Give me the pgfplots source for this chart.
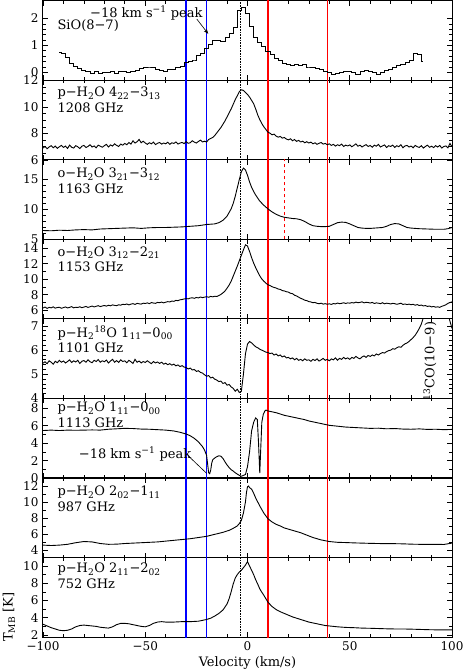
\documentclass[border=0pt]{standalone}
\usepackage{fontspec}
\setmainfont{DejaVu Serif}
\usepackage{pgfplots}
\pgfplotsset{compat=1.18}
\usetikzlibrary{arrows.meta}

\pgfplotsset{
  panel/.style={
    scale only axis, width=409pt, height=79.5pt, anchor=north west,
    xmin=-100, xmax=100, xtick={-100,-50,0,50,100}, minor x tick num=4,
    xticklabels={},
    tick align=inside, major tick length=5pt, minor tick length=3pt,
    every tick/.style={black, line width=0.7pt},
    axis line style={line width=1pt},
    tick label style={font=\fontsize{12}{14}\selectfont},
    /pgf/number format/assume math mode=true,
    clip=true, clip mode=individual,
  },
  spec/.style={black, line width=0.9pt, no marks},
  table/ytab/.style={x expr=\coordindex-100, y index=0, header=false, row sep=\\},
}
% reference velocities: blue -30,-20; red 10,39; dotted systemic -3.3
\newcommand{\vlines}{%
  \addplot[blue, line width=1.5pt] coordinates {(-30,-50) (-30,50)};
  \addplot[blue, line width=1.5pt] coordinates {(-20,-50) (-20,50)};
  \addplot[red, line width=1.5pt] coordinates {(10,-50) (10,50)};
  \addplot[red, line width=1.5pt] coordinates {(39,-50) (39,50)};
  \addplot[black, densely dotted, line width=0.6pt] coordinates {(-3.3,-50) (-3.3,50)};
}
\newcommand{\lab}[3]{%
  \node[anchor=west] at ([xshift=10pt,yshift=-#1]rel axis cs:0,1) {#2};
  \node[anchor=west] at ([xshift=10pt,yshift=-#1-14.5pt]rel axis cs:0,1) {#3};
}

\begin{document}
\fontsize{13}{15}\selectfont
\begin{tikzpicture}

% 1: SiO(8-7)
\begin{axis}[panel, at={(0pt,0pt)}, ymin=-0.3, ymax=2.65, ytick={0,1,2}, minor y tick num=4]
\vlines
\addplot[spec, const plot mark mid] coordinates {
 (-92,0.75) (-90,0.70) (-88,0.55) (-86,0.35) (-84,0.22) (-82,0.14) (-80,0.08) (-78,0.04)
 (-76,-0.04) (-74,0.02) (-72,-0.03) (-70,0.0) (-68,-0.02) (-66,0.04) (-64,-0.03) (-62,0.02)
 (-60,0.04) (-58,-0.01) (-56,0.05) (-54,0.06) (-52,0.14) (-50,0.18) (-48,0.20) (-46,0.18)
 (-44,0.10) (-42,0.06) (-40,0.04) (-38,0.10) (-36,0.12) (-34,0.18) (-32,0.22) (-30,0.38)
 (-28,0.40) (-26,0.46) (-24,0.62) (-22,0.70) (-20,0.88) (-18,1.04) (-16,1.18) (-14,1.20)
 (-12,1.14) (-10,1.28) (-8,1.45) (-6,1.65) (-4,2.30) (-2,2.42) (0,2.20) (2,1.70)
 (4,1.30) (6,1.10) (8,0.95) (10,0.78) (12,0.66) (14,0.52) (16,0.45) (18,0.35)
 (20,0.30) (22,0.26) (24,0.28) (26,0.24) (28,0.28) (30,0.20) (32,0.18) (34,0.14)
 (36,0.10) (38,0.05) (40,0.0) (42,-0.06) (44,-0.04) (46,0.0) (48,0.04) (50,0.03)
 (52,0.0) (54,-0.08) (56,0.02) (58,0.06) (60,0.04) (62,0.0) (64,-0.06) (66,-0.02)
 (68,0.06) (70,0.10) (72,0.18) (74,0.24) (76,0.30) (78,0.38) (80,0.45) (82,0.70)
 (84,0.68) (86,0.40)};
\node[anchor=west] at ([xshift=10pt,yshift=-25pt]rel axis cs:0,1) {SiO(8−7)};
\node at (axis cs:-49.5,2.21) {−18 km s\textsuperscript{−1} peak};
\draw[-{Stealth[length=5pt]}, line width=0.6pt] (axis cs:-24.8,1.98) -- (axis cs:-19.2,1.43);
\end{axis}

% 2: p-H2O 4_22-3_13
\begin{axis}[panel, at={(0pt,-79.5pt)}, ymin=6, ymax=12, ytick={6,8,10,12}, minor y tick num=3]
\vlines
\addplot[spec] table[ytab] {
6.90\\7.02\\6.85\\6.98\\7.08\\6.92\\7.05\\6.88\\7.00\\7.10\\
6.95\\7.05\\6.87\\7.12\\6.96\\6.90\\7.08\\7.00\\6.86\\7.04\\
7.10\\6.94\\7.02\\7.15\\6.98\\7.06\\6.92\\7.12\\7.04\\6.96\\
7.08\\7.18\\6.98\\7.14\\7.05\\7.22\\7.10\\7.02\\7.20\\7.12\\
7.25\\7.15\\7.32\\7.20\\7.45\\7.28\\7.38\\7.55\\7.30\\7.42\\
7.28\\7.18\\7.30\\7.22\\7.35\\7.16\\7.26\\7.32\\7.20\\7.28\\
7.22\\7.34\\7.18\\7.30\\7.25\\7.36\\7.20\\7.28\\7.32\\7.24\\
7.38\\7.26\\7.30\\7.45\\7.35\\7.28\\7.40\\7.50\\7.36\\7.42\\
7.35\\7.55\\7.62\\7.70\\7.85\\8.05\\8.25\\8.45\\8.70\\8.95\\
9.25\\9.55\\9.85\\10.20\\10.55\\10.85\\11.15\\11.30\\11.25\\11.10\\
10.95\\10.75\\10.50\\10.25\\9.85\\9.40\\9.05\\8.75\\8.50\\8.30\\
8.10\\8.02\\7.90\\7.95\\7.80\\7.72\\7.78\\7.65\\7.70\\7.58\\
7.52\\7.60\\7.45\\7.55\\7.40\\7.48\\7.36\\7.42\\7.30\\7.38\\
7.28\\7.35\\7.22\\7.30\\7.18\\7.26\\7.32\\7.20\\7.25\\7.15\\
7.22\\7.10\\7.18\\7.05\\7.15\\7.08\\7.20\\7.02\\7.12\\7.06\\
7.14\\7.00\\7.10\\7.22\\7.04\\7.12\\6.98\\7.08\\7.16\\7.02\\
7.10\\6.96\\7.12\\7.04\\7.18\\6.98\\7.06\\7.14\\6.94\\7.08\\
7.02\\7.12\\6.95\\7.08\\7.00\\7.15\\6.92\\7.06\\7.10\\6.98\\
7.05\\6.92\\7.10\\7.00\\6.95\\7.08\\6.90\\7.02\\7.12\\6.96\\
7.04\\6.94\\7.08\\6.98\\7.10\\6.90\\7.02\\7.06\\6.92\\7.25\\7.00\\
};
\lab{13pt}{p−H\textsubscript{2}O 4\textsubscript{22}−3\textsubscript{13}}{1208 GHz}
\end{axis}

% 3: o-H2O 3_21-3_12
\begin{axis}[panel, at={(0pt,-159pt)}, ymin=5, ymax=18.25, ytick={5,10,15}, minor y tick num=4]
\vlines
\addplot[red, dashed, line width=1.5pt] coordinates {(18,-50) (18,50)};
\addplot[spec] coordinates {
 (-100,6.5) (-96,6.45) (-92,6.55) (-88,6.5) (-84,6.6) (-80,6.65) (-76,6.6) (-72,6.75)
 (-68,6.8) (-64,6.85) (-60,6.9) (-56,6.95) (-52,6.85) (-48,6.95) (-44,7.0) (-40,7.0)
 (-36,7.05) (-32,7.1) (-28,7.2) (-24,7.3) (-20,7.5) (-18,7.55) (-16,7.6) (-14,7.8)
 (-12,8.2) (-10,8.9) (-8,10.1) (-7,11.0) (-6,12.2) (-5,13.6) (-4,15.0) (-3,16.3)
 (-2,16.9) (-1,16.6) (0,15.7) (1,14.6) (2,13.7) (3,13.0) (4,12.4) (5,11.9) (6,11.4)
 (8,10.7) (10,10.1) (12,9.6) (14,9.2) (16,8.9) (18,8.7) (20,8.6) (22,8.5) (24,8.45)
 (26,8.3) (28,8.0) (30,7.6) (32,7.3) (34,7.2) (36,7.15) (38,7.15) (40,7.2) (42,7.5)
 (44,7.8) (46,7.9) (48,7.85) (50,7.6) (52,7.3) (54,7.0) (56,6.9) (58,6.85) (60,6.85)
 (62,6.9) (64,6.95) (66,7.0) (68,7.2) (70,7.5) (72,7.65) (74,7.6) (76,7.3) (78,7.0)
 (80,6.9) (84,6.8) (88,6.75) (92,6.7) (96,6.7) (98,6.8) (100,7.0)};
\lab{14pt}{o−H\textsubscript{2}O 3\textsubscript{21}−3\textsubscript{12}}{1163 GHz}
\end{axis}

% 4: o-H2O 3_12-2_21
\begin{axis}[panel, at={(0pt,-238.5pt)}, ymin=4.88, ymax=15.14, ytick={6,8,...,14}, minor y tick num=1]
\vlines
\addplot[spec] table[ytab] {
6.30\\6.42\\6.25\\6.38\\6.32\\6.45\\6.28\\6.36\\6.40\\6.26\\
6.35\\6.44\\6.30\\6.38\\6.48\\6.32\\6.40\\6.36\\6.46\\6.34\\
6.42\\6.50\\6.38\\6.46\\6.55\\6.44\\6.52\\6.60\\6.48\\6.56\\
6.62\\6.54\\6.66\\6.58\\6.70\\6.64\\6.60\\6.72\\6.66\\6.78\\
6.74\\6.82\\6.70\\6.80\\6.86\\6.76\\6.90\\6.84\\6.80\\6.92\\
6.88\\6.96\\6.86\\7.00\\6.94\\6.90\\7.02\\6.98\\7.06\\6.96\\
7.05\\7.12\\7.08\\7.20\\7.16\\7.28\\7.24\\7.36\\7.40\\7.46\\
7.52\\7.48\\7.58\\7.62\\7.55\\7.66\\7.60\\7.72\\7.64\\7.70\\
7.76\\7.68\\7.80\\7.74\\7.82\\7.78\\7.92\\8.05\\8.25\\8.50\\
8.85\\9.25\\9.75\\10.40\\11.05\\11.70\\12.40\\13.10\\13.80\\14.45\\
14.30\\13.60\\12.80\\12.10\\11.50\\10.95\\10.45\\10.05\\9.75\\9.50\\
9.30\\9.20\\9.05\\8.95\\8.88\\8.75\\8.70\\8.55\\8.50\\8.40\\
8.35\\8.20\\8.15\\7.95\\7.85\\7.70\\7.55\\7.45\\7.30\\7.25\\
7.12\\7.08\\6.98\\7.02\\6.90\\6.85\\6.92\\6.80\\6.86\\6.78\\
6.84\\6.76\\6.88\\6.82\\6.94\\6.86\\6.90\\6.98\\6.88\\6.96\\
6.92\\7.00\\6.94\\7.06\\6.98\\7.02\\7.10\\6.96\\7.04\\7.00\\
6.94\\7.02\\6.88\\6.96\\6.92\\6.86\\6.98\\6.84\\6.92\\6.88\\
6.82\\6.90\\6.86\\6.78\\6.84\\6.92\\6.76\\6.82\\6.74\\6.80\\
6.72\\6.78\\6.66\\6.74\\6.62\\6.68\\6.56\\6.62\\6.50\\6.56\\
6.44\\6.50\\6.40\\6.46\\6.38\\6.52\\6.60\\6.72\\6.90\\7.00\\7.10\\
};
\lab{13pt}{o−H\textsubscript{2}O 3\textsubscript{12}−2\textsubscript{21}}{1153 GHz}
\end{axis}

% 5: p-H2-18O 1_11-0_00
\begin{axis}[panel, at={(0pt,-318pt)}, ymin=4, ymax=7.29, ytick={4,5,6,7}, minor y tick num=4]
\vlines
\addplot[spec] table[ytab] {
5.46\\5.52\\5.44\\5.56\\5.50\\5.42\\5.54\\5.48\\5.58\\5.50\\
5.55\\5.47\\5.53\\5.60\\5.49\\5.56\\5.51\\5.58\\5.45\\5.54\\
5.57\\5.50\\5.60\\5.52\\5.48\\5.58\\5.53\\5.61\\5.50\\5.56\\
5.52\\5.59\\5.47\\5.55\\5.62\\5.50\\5.57\\5.49\\5.60\\5.53\\
5.56\\5.48\\5.58\\5.52\\5.45\\5.62\\5.50\\5.55\\5.47\\5.53\\
5.49\\5.56\\5.50\\5.44\\5.53\\5.47\\5.51\\5.45\\5.50\\5.42\\
5.46\\5.40\\5.44\\5.38\\5.42\\5.35\\5.39\\5.32\\5.36\\5.30\\
5.28\\5.22\\5.26\\5.18\\5.20\\5.12\\5.15\\5.08\\5.05\\4.98\\
4.92\\4.95\\4.85\\4.88\\4.80\\4.76\\4.70\\4.72\\4.62\\4.66\\
4.55\\4.58\\4.48\\4.42\\4.30\\4.38\\4.25\\4.30\\5.00\\5.85\\
6.25\\6.36\\6.30\\6.22\\6.14\\6.10\\6.04\\6.00\\5.96\\5.92\\
5.90\\5.86\\5.88\\5.80\\5.84\\5.76\\5.80\\5.72\\5.76\\5.68\\
5.70\\5.64\\5.68\\5.60\\5.66\\5.58\\5.62\\5.56\\5.64\\5.58\\
5.60\\5.54\\5.62\\5.57\\5.64\\5.55\\5.60\\5.66\\5.58\\5.62\\
5.56\\5.64\\5.60\\5.68\\5.58\\5.66\\5.62\\5.70\\5.64\\5.68\\
5.62\\5.70\\5.66\\5.74\\5.68\\5.64\\5.72\\5.76\\5.70\\5.78\\
5.74\\5.80\\5.76\\5.84\\5.80\\5.86\\5.90\\5.88\\5.94\\5.98\\
6.00\\6.06\\6.04\\6.10\\6.14\\6.12\\6.20\\6.26\\6.30\\6.36\\
6.44\\6.52\\6.62\\6.75\\6.90\\7.08\\7.35\\7.70\\8.10\\8.50\\
8.80\\9.00\\9.10\\9.05\\8.85\\8.50\\8.10\\7.70\\7.50\\7.20\\6.90\\
};
\lab{14pt}{p−H\textsubscript{2}\textsuperscript{18}O 1\textsubscript{11}−0\textsubscript{00}}{1101 GHz}
\node[rotate=90] at (axis cs:89.2,5.55) {\textsuperscript{13}CO(10−9)};
\end{axis}

% 6: p-H2O 1_11-0_00
\begin{axis}[panel, at={(0pt,-397.5pt)}, ymin=0, ymax=9.13, ytick={0,2,...,8}, minor y tick num=1]
\vlines
\addplot[spec] coordinates {
 (-100,5.45) (-96,5.5) (-92,5.45) (-88,5.5) (-84,5.48) (-80,5.5) (-76,5.52) (-72,5.5)
 (-68,5.6) (-64,5.65) (-60,5.7) (-56,5.68) (-52,5.62) (-48,5.6) (-44,5.55) (-40,5.5)
 (-36,5.4) (-33,5.25) (-30,5.05) (-28,4.85) (-26,4.55) (-24,4.15) (-22,3.6) (-21,3.2)
 (-20,2.6) (-19.5,1.6) (-19,0.6) (-18.5,0.5) (-18,0.9) (-17.5,1.7) (-17,2.1) (-16,2.3)
 (-15,2.45) (-14,2.55) (-13,2.5) (-12,2.25) (-11,1.85) (-10,1.5) (-9,1.2) (-8,0.95)
 (-7,0.8) (-6,0.6) (-5,0.45) (-4,0.3) (-3,0.2) (-2,0.3) (-1,0.4) (0,1.3) (1,3.0)
 (2,5.4) (3,6.4) (4,6.9) (4.8,6.7) (5.4,4.0) (6.0,0.55) (6.5,3.5) (7.0,6.4) (7.7,7.3)
 (8.5,7.7) (9,7.8) (10,7.7) (11,7.65) (12,7.6) (14,7.5) (16,7.35) (18,7.2) (20,7.1)
 (22,7.0) (24,6.9) (26,6.8) (28,6.7) (30,6.55) (32,6.45) (34,6.35) (36,6.25) (38,6.15)
 (40,6.05) (44,5.95) (48,5.85) (52,5.8) (56,5.75) (60,5.7) (64,5.72) (68,5.65)
 (72,5.68) (76,5.62) (80,5.6) (84,5.64) (88,5.58) (92,5.6) (96,5.55) (100,5.58)};
\lab{10pt}{p−H\textsubscript{2}O 1\textsubscript{11}−0\textsubscript{00}}{1113 GHz}
\node at (axis cs:-55,2.76) {−18 km s\textsuperscript{−1} peak};
\draw[line width=0.6pt] (axis cs:-28.9,2.53) -- (axis cs:-20,0.54);
\end{axis}

% 7: p-H2O 2_02-1_11
\begin{axis}[panel, at={(0pt,-477pt)}, ymin=3.05, ymax=13, ytick={4,6,...,12}, minor y tick num=1]
\vlines
\addplot[spec] coordinates {
 (-100,4.6) (-96,4.55) (-92,4.6) (-88,4.7) (-84,4.9) (-80,5.05) (-76,5.0) (-72,4.8)
 (-68,4.7) (-64,4.72) (-60,4.8) (-56,4.85) (-52,4.9) (-48,4.95) (-44,5.0) (-40,5.1)
 (-36,5.2) (-32,5.3) (-28,5.4) (-24,5.55) (-20,5.7) (-16,5.95) (-12,6.2) (-9,6.45)
 (-7,6.7) (-5,7.0) (-4,7.3) (-3,7.7) (-2,8.6) (-1,10.0) (-0.5,11.2) (0,11.9) (0.5,12.0)
 (1,11.8) (2,11.6) (3,11.1) (4,10.5) (5,10.0) (6,9.5) (8,8.6) (10,7.9) (12,7.5)
 (14,7.2) (16,7.0) (18,6.75) (20,6.6) (22,6.45) (24,6.3) (26,6.15) (28,5.95) (30,5.75)
 (32,5.55) (34,5.4) (36,5.25) (38,5.15) (40,5.05) (44,4.95) (48,4.92) (52,4.88)
 (56,4.85) (60,4.82) (64,4.8) (68,4.78) (72,4.78) (76,4.76) (80,4.72) (84,4.7)
 (88,4.7) (92,4.7) (96,4.68) (100,4.85)};
\lab{14pt}{p−H\textsubscript{2}O 2\textsubscript{02}−1\textsubscript{11}}{987 GHz}
\end{axis}

% 8: p-H2O 2_11-2_02
\begin{axis}[panel, at={(0pt,-556.5pt)}, ymin=1.77, ymax=10.98, ytick={2,4,...,10}, minor y tick num=1,
  xticklabels={−100,−50,0,50,100}]
\vlines
\addplot[spec] coordinates {
 (-100,3.25) (-98,3.05) (-96,2.85) (-94,2.7) (-92,2.55) (-90,2.5) (-88,2.55) (-86,2.7)
 (-84,2.95) (-82,3.1) (-80,3.15) (-78,3.1) (-76,3.05) (-74,3.0) (-72,2.9) (-70,2.85)
 (-68,2.8) (-66,2.95) (-64,3.2) (-62,3.35) (-60,3.35) (-58,3.3) (-56,3.2) (-54,3.1)
 (-52,3.0) (-50,2.95) (-48,3.1) (-46,3.35) (-44,3.5) (-42,3.55) (-40,3.5) (-36,3.5)
 (-32,3.55) (-28,3.55) (-24,3.6) (-20,3.8) (-18,3.95) (-16,4.2) (-14,4.5) (-12,4.9)
 (-10,5.6) (-9,6.2) (-8,7.0) (-7,7.9) (-6,8.6) (-5,9.0) (-4,9.3) (-3,9.5) (-2,9.8)
 (-1,10.1) (0,10.5) (1,10.0) (2,9.5) (3,9.0) (4,8.4) (5,7.9) (6,7.35) (7,6.95) (8,6.6)
 (10,5.8) (12,5.3) (14,4.95) (16,4.7) (18,4.5) (20,4.3) (22,4.1) (24,3.95) (26,3.8)
 (28,3.65) (30,3.5) (32,3.4) (34,3.3) (36,3.2) (38,3.1) (40,3.05) (44,2.95) (48,2.88)
 (52,2.85) (56,2.8) (60,2.78) (64,2.75) (68,2.72) (72,2.7) (76,2.7) (80,2.68)
 (84,2.65) (88,2.62) (92,2.6) (96,2.6) (100,2.6)};
\lab{12pt}{p−H\textsubscript{2}O 2\textsubscript{11}−2\textsubscript{02}}{752 GHz}
\node at ([yshift=-26pt]rel axis cs:0.5,0) {Velocity (km/s)};
\node[rotate=90] at ([xshift=-34pt]rel axis cs:0,0.25) {T\textsubscript{MB} [K]};
\end{axis}

\pgfresetboundingbox
\path[use as bounding box] (-43pt,-670pt) rectangle (420pt,1pt);
\end{tikzpicture}
\end{document}
